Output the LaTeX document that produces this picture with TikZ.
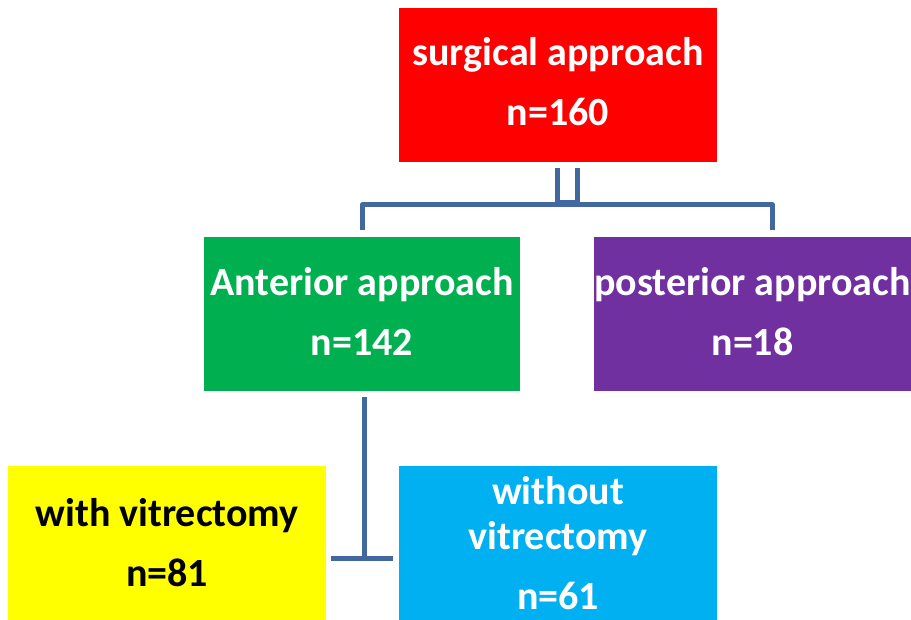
\documentclass[tikz,border=0pt]{standalone}
\usepackage{fontspec}
\setmainfont{Carlito}
\usetikzlibrary{calc}
\definecolor{cred}{RGB}{255,0,0}
\definecolor{cgreen}{RGB}{0,176,80}
\definecolor{cpurple}{RGB}{112,48,160}
\definecolor{cyellow}{RGB}{255,255,0}
\definecolor{ccyan}{RGB}{0,176,240}
\definecolor{cline}{RGB}{65,105,160}
\tikzset{
  box/.style={rectangle, inner sep=0pt, minimum width=318pt, minimum height=154pt,
    align=center, text=white, font=\fontsize{40}{60}\selectfont\bfseries},
  conn/.style={draw=cline, line width=5pt}
}
\begin{document}
\begin{tikzpicture}[x=1pt,y=-1pt]
\useasboundingbox (0,0) rectangle (911,620);
\node[box, fill=cred, text depth=7pt] (red) at (558,85) {surgical approach\\n=160};
\node[box, fill=cgreen, minimum width=316pt, text depth=6pt] (green) at (362,314) {Anterior approach\\n=142};
\node[box, fill=cpurple, minimum width=317pt, text depth=6pt] (purple) at (752.5,314) {posterior approach\\n=18};
\node[box, fill=cyellow, text=black] (yellow) at (167,543) {with vitrectomy\\n=81};
\node[box, fill=ccyan, font=\fontsize{40}{45}\selectfont\bfseries] (cyan) at (558,543) {without\\vitrectomy\\[15pt]n=61};
% top connector
\coordinate (t1) at ($(red.south)+(-1,6)$);
\coordinate (t2) at ($(red.south)+(19,6)$);
\coordinate (lh) at ($(green.north)+(0,-7)$);
\coordinate (rh) at ($(purple.north)+(19.5,-7)$);
\draw[conn, line join=round] (t1) -- (t1 |- 0,203) -- (t2 |- 0,203) -- (t2);
\draw[conn, line join=round] (lh) -- (lh |- 0,205) -- (rh |- 0,205) -- (rh);
% bottom connector
\coordinate (b1) at ($(green.south)+(2,6)$);
\coordinate (b2) at (364,558);
\coordinate (bl) at (331,558);
\coordinate (br) at (393,558);
\draw[conn] (b1) -- (b2);
\draw[conn] (bl) -- (br);
\end{tikzpicture}
\end{document}
